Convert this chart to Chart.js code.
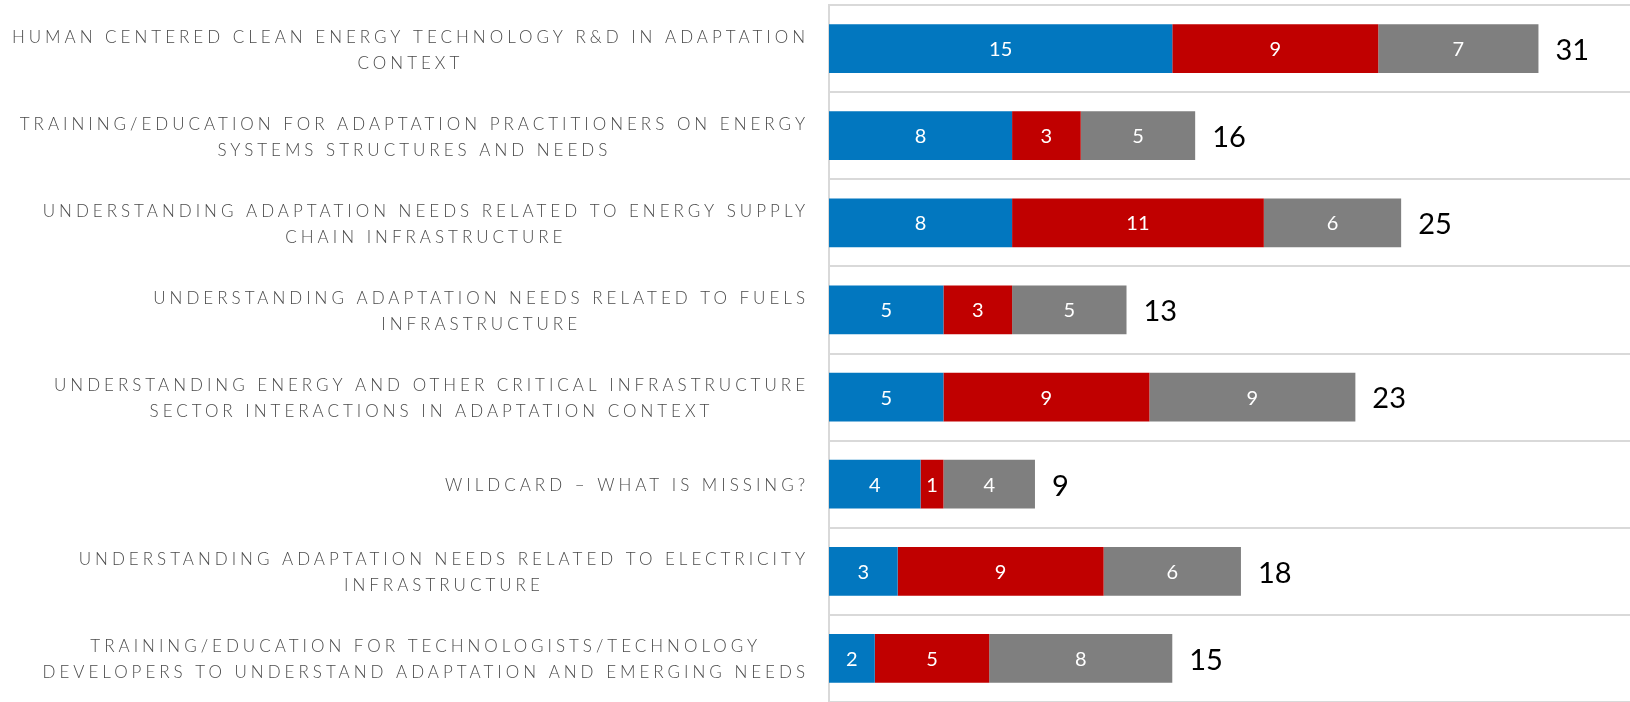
<!DOCTYPE html>
<html>
<head>
<meta charset="utf-8">
<script src="https://cdn.jsdelivr.net/npm/chart.js@4/dist/chart.umd.min.js"></script>
<style>
  html, body { margin: 0; padding: 0; background: #ffffff; }
  #wrap { width: 1630px; height: 702px; }
</style>
</head>
<body>
<div id="wrap"><canvas id="c" width="1630" height="702"></canvas></div>
<script>
const categories = [
  ["HUMAN CENTERED CLEAN ENERGY TECHNOLOGY R&D IN ADAPTATION", "CONTEXT"],
  ["TRAINING/EDUCATION FOR ADAPTATION PRACTITIONERS ON ENERGY", "SYSTEMS STRUCTURES AND NEEDS"],
  ["UNDERSTANDING ADAPTATION NEEDS RELATED TO ENERGY SUPPLY", "CHAIN INFRASTRUCTURE"],
  ["UNDERSTANDING ADAPTATION NEEDS RELATED TO FUELS", "INFRASTRUCTURE"],
  ["UNDERSTANDING ENERGY AND OTHER CRITICAL INFRASTRUCTURE", "SECTOR INTERACTIONS IN ADAPTATION CONTEXT"],
  ["WILDCARD – WHAT IS MISSING?"],
  ["UNDERSTANDING ADAPTATION NEEDS RELATED TO ELECTRICITY", "INFRASTRUCTURE"],
  ["TRAINING/EDUCATION FOR TECHNOLOGISTS/TECHNOLOGY", "DEVELOPERS TO UNDERSTAND ADAPTATION AND EMERGING NEEDS"]
];
const blueValues = [15, 8, 8, 5, 5, 4, 3, 2];
const redValues  = [9, 3, 11, 3, 9, 1, 9, 5];
const greyValues = [7, 5, 6, 5, 9, 4, 6, 8];
const xMax = 35;

const FONT = "Lato, 'Open Sans', 'DejaVu Sans', sans-serif";

const labelPlugin = {
  id: 'customLabels',
  afterDatasetsDraw(chart) {
    const ctx = chart.ctx;
    const xs = chart.scales.x, ys = chart.scales.y;
    ctx.save();
    ctx.fillStyle = '#ffffff';
    ctx.font = '20px ' + FONT;
    ctx.textAlign = 'center';
    ctx.textBaseline = 'middle';
    chart.data.datasets.forEach((ds, di) => {
      const meta = chart.getDatasetMeta(di);
      meta.data.forEach((bar, i) => {
        const v = ds.data[i];
        const left = Math.min(bar.x, bar.base), right = Math.max(bar.x, bar.base);
        ctx.fillText(String(v), (left + right) / 2, bar.y + 1);
      });
    });
    ctx.fillStyle = '#000000';
    ctx.font = '29px ' + FONT;
    ctx.textAlign = 'left';
    categories.forEach((c, i) => {
      const total = blueValues[i] + redValues[i] + greyValues[i];
      ctx.fillText(String(total), xs.getPixelForValue(total) + 17, ys.getPixelForValue(i) + 2);
    });
    ctx.restore();
  },
  afterDraw(chart) {
    const ctx = chart.ctx;
    const ys = chart.scales.y;
    ctx.save();
    ctx.fillStyle = '#4A4A4A';
    ctx.font = '300 17px ' + FONT;
    ctx.letterSpacing = '4px';
    ctx.textBaseline = 'middle';
    ctx.textAlign = 'center';
    const rightEdge = chart.chartArea.left - 22;
    const lh = 26;
    categories.forEach((lines, i) => {
      const yc = ys.getPixelForValue(i) + 1.5;
      const widths = lines.map(l => ctx.measureText(l).width);
      const maxW = Math.max(...widths);
      const cx = rightEdge - maxW / 2;
      const y0 = yc - (lines.length - 1) * lh / 2;
      lines.forEach((l, k) => ctx.fillText(l, cx + 2, y0 + k * lh));
    });
    ctx.restore();
  }
};

new Chart(document.getElementById('c'), {
  type: 'bar',
  data: {
    labels: categories,
    datasets: [
      { data: blueValues, backgroundColor: '#0277BF' },
      { data: redValues, backgroundColor: '#C00000' },
      { data: greyValues, backgroundColor: '#7F7F7F' }
    ]
  },
  options: {
    indexAxis: 'y',
    responsive: false,
    animation: false,
    barPercentage: 0.56,
    categoryPercentage: 1.0,
    layout: { padding: { top: 5, bottom: 0, left: 0, right: 0 } },
    plugins: { legend: { display: false }, tooltip: { enabled: false } },
    scales: {
      x: {
        stacked: true, min: 0, max: xMax, display: false
      },
      y: {
        stacked: true,
        ticks: { display: false },
        grid: { color: '#D9D9D9', lineWidth: 2, drawTicks: false, offset: true },
        border: { display: true, color: '#D9D9D9', width: 2 },
        afterFit(scale) { scale.width = 829; }
      }
    }
  },
  plugins: [labelPlugin]
});
</script>
</body>
</html>
